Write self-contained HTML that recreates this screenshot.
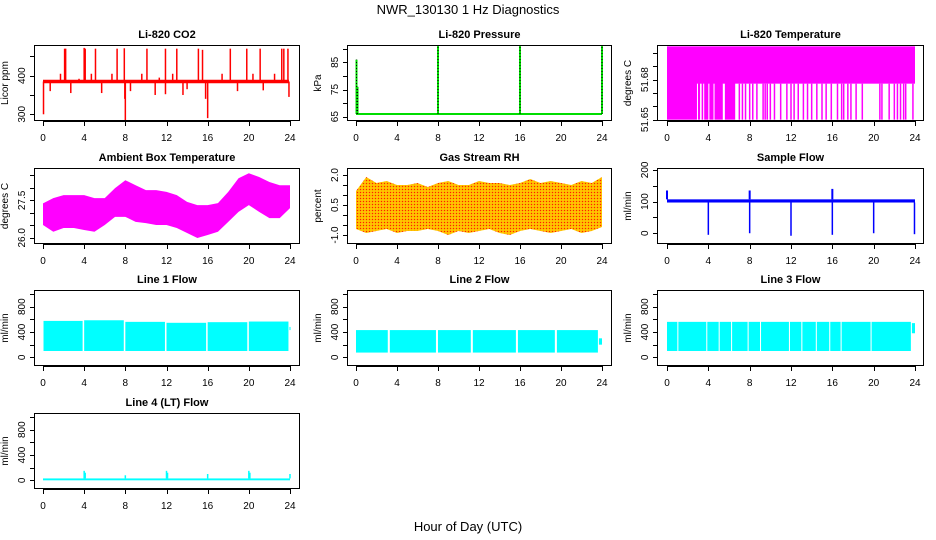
<!DOCTYPE html>
<html><head><meta charset="utf-8"><style>
html,body{margin:0;padding:0;background:#fff;}
svg{display:block;font-family:"Liberation Sans",sans-serif;}
</style></head><body>
<svg id="chart" width="936" height="540" viewBox="0 0 936 540" xmlns="http://www.w3.org/2000/svg">
<defs>
<pattern id="rhpat" width="3" height="3" patternUnits="userSpaceOnUse">
<rect width="3" height="3" fill="#ffb000"/><rect width="1" height="1" fill="#ff2000"/><rect x="1.5" y="1.5" width="1" height="1" fill="#ffff00"/>
</pattern>
</defs>
<text x="468" y="14" font-size="13" text-anchor="middle">NWR_130130  1 Hz Diagnostics</text>
<text x="468" y="531" font-size="13" text-anchor="middle">Hour of Day (UTC)</text>
</svg>
<script>
// ---- data ----
const hours = [0,4,8,12,16,20,24];
const hourly = [0,1,2,3,4,5,6,7,8,9,10,11,12,13,14,15,16,17,18,19,20,21,22,23,24];
// CO2
const co2Base = 385;
const co2SpikesUp = [[2.1,470],[2.2,470],[4.0,472],[4.1,470],[5.1,470],[7.2,470],[7.9,471],[10.1,470],[11.9,470],[13.0,470],[15.1,470],[15.5,467],[18.2,470],[19.8,470],[21.1,470],[23.2,470],[23.4,470],[23.8,470],[1.7,405],[3.5,392],[4.7,405],[6.7,405],[9.6,405],[11.3,395],[12.6,405],[17.4,405],[20.4,405],[22.5,405]];
const co2SpikesDown = [[0.05,300],[8.0,285],[16.0,290],[7.95,340],[11.9,352],[23.9,345],[15.8,340],[2.7,355],[5.7,355],[10.9,350],[13.6,350],[0.7,360],[8.5,360],[14.0,365],[18.9,360],[21.4,362]];
// Pressure
const presBase = 66;
const presSpikes = [[0.05,86],[0.15,76],[8.0,91],[16.0,91],[24.0,91]];
// Li-820 temperature
const tempTop = 51.705, tempMid = 51.677, tempLow = 51.65;
const tempFull = [[0,2.9],[3.0,3.2],[3.35,3.5],[3.6,4.0],[4.1,4.5],[4.6,5.4],[5.6,6.6]];
const tempStripes = [7.0,7.3,7.6,8.0,8.3,8.7,9.3,9.5,9.7,10.0,10.4,11.0,11.6,12.0,12.3,12.7,13.2,13.6,14.0,14.5,15.0,15.4,15.9,16.5,16.9,17.1,17.5,17.8,18.3,18.9,20.6,20.8,21.5,22.0,22.3,22.6,22.9,23.1,23.8];
// Ambient box temperature envelopes
const ambUpper = [27.38,27.59,27.71,27.71,27.71,27.59,27.59,27.99,28.31,28.11,27.91,27.91,27.84,27.71,27.44,27.31,27.31,27.39,27.84,28.39,28.59,28.44,28.24,28.11,28.11];
const ambLower = [26.51,26.24,26.39,26.39,26.31,26.24,26.51,26.84,26.84,26.64,26.59,26.51,26.51,26.39,26.19,25.99,26.11,26.24,26.64,27.04,27.31,27.04,26.79,26.79,27.19];
// Gas stream RH envelopes
const rhUpper = [1.2,1.9,1.6,1.7,1.5,1.5,1.6,1.4,1.6,1.7,1.5,1.5,1.7,1.6,1.6,1.5,1.6,1.8,1.6,1.7,1.6,1.5,1.7,1.6,1.9];
const rhLower = [-0.7,-0.9,-0.8,-0.7,-0.9,-0.8,-0.8,-0.7,-0.8,-1.0,-0.8,-0.9,-0.8,-0.7,-0.9,-1.0,-0.8,-0.7,-0.8,-0.9,-0.8,-0.7,-0.9,-0.8,-0.6];
// Sample flow
const sfLow = 97, sfHigh = 107;
const sfDips = [[4.0,-5],[8.0,0],[12.0,-8],[16.0,-5],[20.0,0],[23.95,-3]];
const sfSpikes = [[0.0,135],[8.0,135],[16.0,140]];
// Line flows: [start, end, low, high]
const line1Seg = [[0.05,3.85,100,575],[4.0,7.85,100,585],[8.0,11.85,100,560],[12.0,15.85,100,545],[16.0,19.85,100,555],[20.0,23.85,100,565],[23.95,24.05,430,480]];
const line2Seg = [[0.0,3.1,75,430],[3.3,7.8,75,430],[8.0,11.2,75,430],[11.4,15.6,75,430],[15.8,19.4,75,430],[19.6,23.6,75,430],[23.7,24.0,200,300]];
const line3Seg = [[0.0,1.0,100,560],[1.1,3.8,100,560],[3.9,5.0,100,560],[5.1,6.2,100,560],[6.3,7.8,100,560],[7.9,9.0,100,560],[9.1,11.8,100,560],[11.9,13.0,100,560],[13.1,14.4,100,560],[14.5,15.7,100,560],[15.8,16.8,100,560],[16.9,19.7,100,560],[19.8,23.6,100,560],[23.7,24.0,380,540]];
const line4Base = [0,30];
const line4Spikes = [[4.0,150],[4.1,120],[8.0,80],[12.0,150],[12.1,120],[16.0,100],[20.0,150],[20.1,120],[24.0,100]];
// tick arrays
const co2Ticks = [300,350,400,450], co2Labels = ["300","","400",""];
const presTicks = [65,70,75,80,85,90], presLabels = ["65","","75","","85",""];
const tempTicks = [51.65,51.66,51.67,51.68,51.69,51.70], tempLabels = ["51.65","","","51.68","",""];
const ambTicks = [26.0,26.5,27.0,27.5,28.0,28.5], ambLabels = ["26.0","","","27.5","",""];
const rhTicks = [-1.0,-0.5,0,0.5,1.0,1.5,2.0], rhLabels = ["-1.0","","","0.5","","","2.0"];
const sfTicks = [0,50,100,150,200], sfLabels = ["0","","100","","200"];
const flowTicks = [0,200,400,600,800,1000], flowLabels = ["0","","400","","800",""];

// ---- drawing ----
const NS = "http://www.w3.org/2000/svg";
const svg = document.getElementById('chart');
function mk(tag, attrs, parent){ const e=document.createElementNS(NS,tag); for(const k in attrs) e.setAttribute(k,attrs[k]); (parent||svg).appendChild(e); return e; }
const cols = [[34,300,43,290],[347,612,356,602],[657,924,667,915]];
const rows = [[45,121],[168,244],[290,366],[413,489]];

function panel(name, c, r, title, ylab, ylim, ticks, labels){
  const [bl,br,x0,x24]=cols[c], [bt,bb]=rows[r];
  const g = mk('g',{});
  
  
  const X = t => x0 + t/24*(x24-x0);
  const Y = v => bb - (v-ylim[0])/(ylim[1]-ylim[0])*(bb-bt);
  const t1 = mk('text',{x:(bl+br)/2,y:bt-7,'font-size':11,'font-weight':'bold','text-anchor':'middle'},g);
  t1.textContent = title;
  
  
  const yl = mk('text',{x:0,y:0,'font-size':10,'text-anchor':'middle',transform:`translate(${bl-26},${(bt+bb)/2}) rotate(-90)`},g);
  yl.textContent = ylab;
  
  
  const plot = mk('g',{},g);
  
  
  const ax = mk('g',{stroke:'#000','stroke-width':1,fill:'none'},g);
  
  
  mk('rect',{x:bl+0.5,y:bt+0.5,width:br-bl-1,height:bb-bt-1},ax);
  mk('line',{x1:X(0),x2:X(24),y1:bb+0.5,y2:bb+0.5},ax);
  hours.forEach(h=>{
    mk('line',{x1:Math.round(X(h))+0.5,x2:Math.round(X(h))+0.5,y1:bb,y2:bb+5},ax);
    const tl = mk('text',{x:X(h),y:bb+20,'font-size':10,'text-anchor':'middle',fill:'#000',stroke:'none'},g);
    tl.textContent = h;
    
    
  });
  mk('line',{x1:bl+0.5,x2:bl+0.5,y1:Y(ticks[0]),y2:Y(ticks[ticks.length-1])},ax);
  ticks.forEach((v,i)=>{
    const y = Math.round(Y(v))+0.5;
    mk('line',{x1:bl-4,x2:bl,y1:y,y2:y},ax);
    if(labels[i]){
      const tl = mk('text',{x:0,y:0,'font-size':10,'text-anchor':'middle',fill:'#000',stroke:'none',transform:`translate(${bl-9},${Y(v)}) rotate(-90)`},g);
      tl.textContent = labels[i];
      
      
    }
  });
  return {X,Y,plot};
}
function vline(p,t,v1,v2,color,w){ return mk('line',{x1:p.X(t),x2:p.X(t),y1:p.Y(v1),y2:p.Y(v2),stroke:color,'stroke-width':w||1.5},p.plot); }
function band(p,up,lo,fill){
  let d = hourly.map((h,i)=>`${i?'L':'M'}${p.X(h)},${p.Y(up[i])}`).join('');
  for(let i=hourly.length-1;i>=0;i--) d+=`L${p.X(hourly[i])},${p.Y(lo[i])}`;
  return mk('path',{d:d+'Z',fill:fill},p.plot);
}
function segs(p,arr,color){
  arr.forEach(s=>{ const r=mk('rect',{x:p.X(s[0]),y:p.Y(s[3]),width:Math.max(1,p.X(s[1])-p.X(s[0])),height:p.Y(s[2])-p.Y(s[3]),fill:color},p.plot);
      });
}

let p = panel('co2',0,0,'Li-820 CO2','Licor ppm',[282.6,479.5],co2Ticks,co2Labels);
co2SpikesUp.forEach(s=>vline(p,s[0],co2Base,s[1],'#ff0000',1.5));
co2SpikesDown.forEach(s=>vline(p,s[0],co2Base,s[1],'#ff0000',1.5));
mk('line',{x1:p.X(0),x2:p.X(23.9),y1:p.Y(co2Base),y2:p.Y(co2Base),stroke:'#ff0000','stroke-width':3.5},p.plot);

p = panel('pressure',1,0,'Li-820 Pressure','kPa',[63.4,91.4],presTicks,presLabels);
mk('line',{x1:p.X(0),x2:p.X(24),y1:p.Y(presBase),y2:p.Y(presBase),stroke:'#00dd00','stroke-width':2},p.plot);
presSpikes.forEach(s=>{ vline(p,s[0],presBase,s[1],'#00dd00',2); mk('line',{x1:p.X(s[0]),x2:p.X(s[0]),y1:p.Y(presBase),y2:p.Y(s[1]),stroke:'#000','stroke-width':1,'stroke-dasharray':'1,2'},p.plot); });

p = panel('li820-temp',2,0,'Li-820 Temperature','degrees C',[51.649,51.706],tempTicks,tempLabels);
mk('rect',{x:p.X(0),y:p.Y(tempTop),width:p.X(24)-p.X(0),height:p.Y(tempMid)-p.Y(tempTop),fill:'#ff00ff'},p.plot);
tempFull.forEach(s=>mk('rect',{x:p.X(s[0]),y:p.Y(tempMid)-1,width:p.X(s[1])-p.X(s[0]),height:p.Y(tempLow)-p.Y(tempMid)+1,fill:'#ff00ff'},p.plot));
tempStripes.forEach(t=>vline(p,t,tempMid,tempLow,'#ff00ff',1.5));

p = panel('ambient-temp',0,1,'Ambient Box Temperature','degrees C',[25.75,28.8],ambTicks,ambLabels);
band(p,ambUpper,ambLower,'#ff00ff');

p = panel('rh',1,1,'Gas Stream RH','percent',[-1.45,2.35],rhTicks,rhLabels);
band(p,rhUpper,rhLower,'url(#rhpat)');

p = panel('sample-flow',2,1,'Sample Flow','ml/min',[-34,206],sfTicks,sfLabels);
mk('rect',{x:p.X(0),y:p.Y(sfHigh),width:p.X(24)-p.X(0),height:p.Y(sfLow)-p.Y(sfHigh),fill:'#0000ff'},p.plot);
sfDips.forEach(s=>vline(p,s[0],sfLow,s[1],'#0000ff',1.5));
sfSpikes.forEach(s=>vline(p,s[0],sfHigh,s[1],'#0000ff',2));

p = panel('line1-flow',0,2,'Line 1 Flow','ml/min',[-137,1063],flowTicks,flowLabels); segs(p,line1Seg,'#00ffff');
p = panel('line2-flow',1,2,'Line 2 Flow','ml/min',[-137,1063],flowTicks,flowLabels); segs(p,line2Seg,'#00ffff');
p = panel('line3-flow',2,2,'Line 3 Flow','ml/min',[-137,1063],flowTicks,flowLabels); segs(p,line3Seg,'#00ffff');
p = panel('line4-flow',0,3,'Line 4 (LT) Flow','ml/min',[-137,1063],flowTicks,flowLabels);
mk('rect',{x:p.X(0),y:p.Y(line4Base[1]),width:p.X(24)-p.X(0),height:p.Y(line4Base[0])-p.Y(line4Base[1]),fill:'#00ffff'},p.plot);
line4Spikes.forEach(s=>vline(p,s[0],line4Base[1],s[1],'#00ffff',1.5));
</script>
</body></html>
